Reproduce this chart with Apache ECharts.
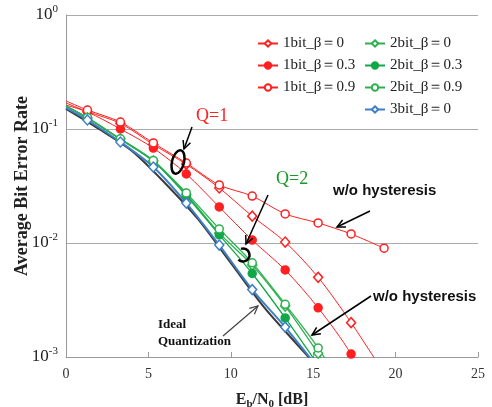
<!DOCTYPE html>
<html>
<head>
<meta charset="utf-8">
<script src="https://cdn.jsdelivr.net/npm/echarts@6/dist/echarts.min.js"></script>
<style>
  html, body { margin: 0; padding: 0; background: #fff; }
  #chart { width: 492px; height: 407px; }
</style>
</head>
<body>
<div id="chart"></div>
<script>
// Eb/N0 [dB] 各点
const snr = [0, 1.3, 3.3, 5.3, 7.3, 9.3, 11.3, 13.3, 15.3, 17.3, 19.3];
// 1bit
const bit1Beta0 = [0.169, 0.142, 0.112, 0.073, 0.049, 0.0304, 0.0172, 0.0102, 0.0050, 0.0020, 0.00072];
const bit1Beta03 = [0.162, 0.141, 0.100, 0.068, 0.0403, 0.0207, 0.0106, 0.0058, 0.0027, 0.00106, 0.0003];
const bit1Beta09 = [0.176, 0.1468, 0.1151, 0.0754, 0.0503, 0.0323, 0.0258, 0.0180, 0.0150, 0.0120, 0.0090];
// 2bit
const bit2Beta0 = [0.159, 0.125, 0.0817, 0.0524, 0.0268, 0.0122, 0.0064, 0.0028, 0.00108, 0.0004];
const bit2Beta03 = [0.159, 0.125, 0.081, 0.052, 0.026, 0.0118, 0.0054, 0.0022, 0.00085];
const bit2Beta09 = [0.159, 0.126, 0.082, 0.053, 0.0275, 0.0133, 0.0067, 0.0029, 0.0012, 0.0004];
// 3bit
const bit3Beta0 = [0.153, 0.120, 0.0769, 0.0464, 0.0224, 0.0096, 0.0039, 0.00183, 0.0008];
// 理想量子化
const idealSnr = [0, 2, 4, 6, 8, 10, 12, 14, 15];
const idealBer = [0.150, 0.100, 0.0641, 0.0336, 0.01625, 0.00668, 0.00275, 0.0013, 0.0009];

const serif = 'Liberation Serif';
const red = '#ff2020';
const green = '#2fb050';
const blue = '#3f7fc8';

// x=0 の点はマーカーなし
function toPoints(ys) {
    return ys.map(function (y, i) {
        if (i == 0) {
            return { value: [snr[i], y], symbol: 'none' };
        }
        return [snr[i], y];
    });
}

function makeSeries(name, ys, color, symbol, filled, width) {
    return {
        name: name,
        type: 'line',
        data: toPoints(ys),
        smooth: 0.3,
        symbol: symbol,
        symbolSize: symbol == 'diamond' ? [9, 10] : 8,
        lineStyle: { color: color, width: width },
        itemStyle: { color: filled ? color : '#fff', borderColor: color, borderWidth: 1.5 },
        z: 3
    };
}

// 矢印（開いた矢じり）
function arrow(x1, y1, x2, y2, color, w) {
    const a = Math.atan2(y2 - y1, x2 - x1);
    const L = 9, s = 0.45;
    return [
        { type: 'line', shape: { x1: x1, y1: y1, x2: x2, y2: y2 }, style: { stroke: color, lineWidth: w }, z: 10 },
        {
            type: 'polyline',
            shape: { points: [
                [x2 - L * Math.cos(a - s), y2 - L * Math.sin(a - s)],
                [x2, y2],
                [x2 - L * Math.cos(a + s), y2 - L * Math.sin(a + s)]
            ] },
            style: { stroke: color, lineWidth: w, fill: null },
            z: 10
        }
    ];
}

const legendText = { fontFamily: serif, fontSize: 15, color: '#222' };

var myChart = echarts.init(document.getElementById('chart'));
option = {
    backgroundColor: '#fff',
    animation: false,
    grid: { left: 66, right: 14, top: 15, bottom: 50, containLabel: false, outerBoundsMode: 'none' },
    legend: [
        {
            data: ['1bit_β＝0', '1bit_β＝0.3', '1bit_β＝0.9'],
            orient: 'vertical', left: 252, top: 31,
            itemWidth: 20, itemHeight: 8, itemGap: 7,
            textStyle: legendText
        },
        {
            data: ['2bit_β＝0', '2bit_β＝0.3', '2bit_β＝0.9', '3bit_β＝0'],
            orient: 'vertical', left: 359, top: 31,
            itemWidth: 20, itemHeight: 8, itemGap: 7,
            textStyle: legendText
        }
    ],
    xAxis: {
        type: 'value', min: 0, max: 25, interval: 5,
        name: '{n|E}{s|b}{n|/N}{s|0}{n| [dB]}',
        nameLocation: 'middle', nameGap: 33, nameMoveOverlap: false,
        nameTextStyle: {
            rich: {
                n: { fontFamily: serif, fontSize: 16, fontWeight: 'bold', color: '#222', lineHeight: 20 },
                s: { fontFamily: serif, fontSize: 11, fontWeight: 'bold', color: '#222', verticalAlign: 'bottom' }
            }
        },
        axisLine: { lineStyle: { color: '#999' } },
        axisTick: { inside: true, length: 5, lineStyle: { color: '#999' } },
        axisLabel: { fontFamily: serif, fontSize: 14, color: '#333', margin: 10 },
        splitLine: { show: false }
    },
    yAxis: {
        type: 'log', logBase: 10, min: 0.001, max: 1,
        name: 'Average Bit Error Rate',
        nameLocation: 'middle', nameGap: 35, nameMoveOverlap: false,
        nameTextStyle: { fontFamily: serif, fontSize: 18, fontWeight: 'bold', color: '#222' },
        axisLine: { show: true, lineStyle: { color: '#999' } },
        axisTick: { show: false },
        axisLabel: {
            margin: 8,
            formatter: function (v) {
                return '{b|10}{s|' + Math.round(Math.log10(v)) + '}';
            },
            rich: {
                b: { fontFamily: serif, fontSize: 17, color: '#222', lineHeight: 22 },
                s: { fontFamily: serif, fontSize: 11, color: '#222', verticalAlign: 'top' }
            }
        },
        splitLine: { lineStyle: { color: '#aaa' } }
    },
    series: [
        {
            name: 'ideal', type: 'line',
            data: idealSnr.map(function (x, i) { return [x, idealBer[i]]; }),
            smooth: 0.3, symbol: 'none',
            lineStyle: { color: '#3a3a3a', width: 2 }, z: 2
        },
        makeSeries('1bit_β＝0', bit1Beta0, red, 'diamond', false, 1),
        makeSeries('1bit_β＝0.3', bit1Beta03, red, 'circle', true, 1),
        makeSeries('1bit_β＝0.9', bit1Beta09, red, 'circle', false, 1),
        makeSeries('2bit_β＝0', bit2Beta0, green, 'diamond', false, 1.3),
        makeSeries('2bit_β＝0.3', bit2Beta03, '#10a848', 'circle', true, 1.3),
        makeSeries('2bit_β＝0.9', bit2Beta09, green, 'circle', false, 1.3),
        makeSeries('3bit_β＝0', bit3Beta0, blue, 'diamond', false, 2)
    ],
    graphic: [].concat(
        [
            { type: 'text', x: 196, y: 107, style: { text: 'Q=1', font: '18px "Liberation Serif"', fill: '#ff2020' }, z: 10 },
            { type: 'text', x: 276, y: 170, style: { text: 'Q=2', font: '18px "Liberation Serif"', fill: '#1a9a2a' }, z: 10 },
            { type: 'text', x: 333, y: 183, style: { text: 'w/o hysteresis', font: 'bold 15px "Liberation Sans"', fill: '#111' }, z: 10 },
            { type: 'text', x: 373, y: 289, style: { text: 'w/o hysteresis', font: 'bold 15px "Liberation Sans"', fill: '#111' }, z: 10 },
            { type: 'text', x: 158, y: 318, style: { text: 'Ideal', font: 'bold 13px "Liberation Serif"', fill: '#111' }, z: 10 },
            { type: 'text', x: 158, y: 335, style: { text: 'Quantization', font: 'bold 13px "Liberation Serif"', fill: '#111' }, z: 10 },
            { type: 'ellipse', shape: { cx: 178, cy: 162, rx: 6, ry: 12 }, rotation: -0.25, originX: 178, originY: 162, style: { stroke: '#000', lineWidth: 2.5, fill: null }, z: 10 },
            { type: 'arc', shape: { cx: 243, cy: 255, r: 6.5, startAngle: -Math.PI * 0.6, endAngle: Math.PI * 0.75 }, style: { stroke: '#000', lineWidth: 2.5, fill: null }, z: 10 }
        ],
        arrow(192, 127, 184, 149, '#000', 1.5),
        arrow(268, 195, 246, 244, '#000', 1.5),
        arrow(370, 211, 337, 227, '#000', 1.5),
        arrow(371, 296, 312, 335, '#000', 1.5),
        arrow(223, 336, 258, 306, '#444', 1.2)
    )
};
myChart.setOption(option);
</script>
</body>
</html>
